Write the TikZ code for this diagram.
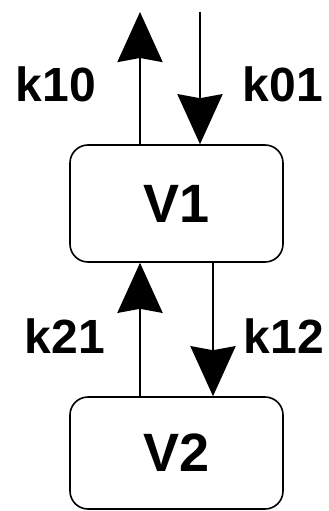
\documentclass[tikz,border=0pt]{standalone}
\usepackage{fontspec}
\setmainfont{Liberation Sans}
\usetikzlibrary{arrows.meta}
\begin{document}
\begin{tikzpicture}[x=1pt,y=1pt,
  compartment/.style={draw, line width=1.6pt, rounded corners=18pt, minimum width=213pt, inner sep=0pt, font=\fontsize{54}{54}\selectfont\bfseries},
  flow/.style={line width=2.8pt, -{Stealth[length=50pt, width=45pt, inset=4pt]}},
  rate/.style={font=\fontsize{48}{48}\selectfont\bfseries, inner sep=0pt, anchor=base}]
  \useasboundingbox (0,0) rectangle (329,-511);
  % compartments
  \node[compartment, minimum height=117pt] (V1) at (176.5,-203.5) {V1};
  \node[compartment, minimum height=112pt] (V2) at (176.5,-453) {V2};
  % free ends of the outer flows
  \coordinate (out10) at (140,-12);
  \coordinate (in01) at (200,-12);
  % flows
  \draw[flow] (V1.north -| out10) -- (out10);
  \draw[flow] (in01) -- (V1.north -| in01);
  \draw[flow] (V2.north -| 140,0) -- (V1.south -| 140,0);
  \draw[flow] (V1.south -| 213,0) -- (V2.north -| 213,0);
  % rate constants
  \node[rate] (k10) at (56,-101) {k10};
  \node[rate] (k01) at (283,-101) {k01};
  \node[rate] (k21) at (65,-353) {k21};
  \node[rate] (k12) at (284,-353) {k12};
\end{tikzpicture}
\end{document}
